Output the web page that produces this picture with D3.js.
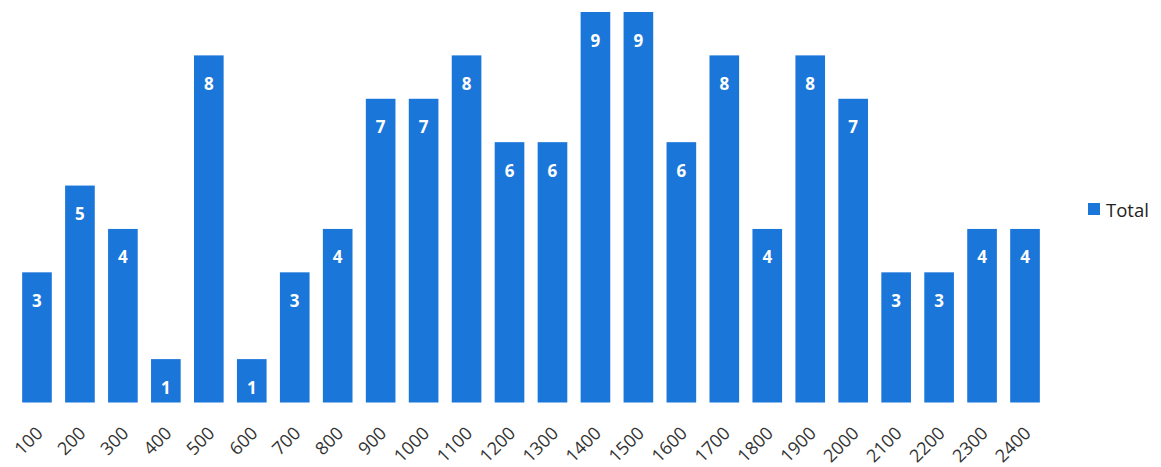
<!DOCTYPE html>
<html><head><meta charset="utf-8">
<script src="https://cdn.jsdelivr.net/npm/d3@7"></script>
<style>body{margin:0;background:#fff;}svg{display:block;}</style>
</head><body>
<svg id="c" width="1161" height="467"></svg>
<script>
const categories = ["100","200","300","400","500","600","700","800","900","1000","1100","1200","1300","1400","1500","1600","1700","1800","1900","2000","2100","2200","2300","2400"];
const values = [3,5,4,1,8,1,3,4,7,7,8,6,6,9,9,6,8,4,8,7,3,3,4,4];
const seriesName = "Total";

const svg = d3.select("#c");
const blue = "#1b76da";
const x = d3.scaleBand().domain(categories).range([15.5, 1046.5]).paddingInner(0.31).paddingOuter(0.155);
const y = d3.scaleLinear().domain([0, 9]).range([402.5, 12]);

svg.append("g").selectAll("rect").data(values).join("rect")
  .attr("x", (d,i) => x(categories[i]))
  .attr("y", d => y(d))
  .attr("width", x.bandwidth())
  .attr("height", d => y(0) - y(d))
  .attr("fill", blue);

svg.append("g").selectAll("text").data(values).join("text")
  .attr("x", (d,i) => x(categories[i]) + x.bandwidth()/2)
  .attr("y", d => y(d) + 28)
  .attr("text-anchor", "middle")
  .attr("dominant-baseline", "central")
  .attr("font-family", "Open Sans, sans-serif")
  .attr("font-weight", "bold")
  .attr("font-size", 17)
  .attr("fill", "#fff")
  .text(d => d);

const ax = svg.append("g").attr("transform", `translate(0,${y(0)})`)
  .call(d3.axisBottom(x).tickSize(0).tickPadding(0));
ax.select(".domain").remove();
ax.selectAll("text")
  .attr("font-family", "Open Sans, sans-serif")
  .attr("font-size", 18)
  .attr("fill", "#333")
  .attr("text-anchor", "end")
  .attr("dy", null)
  .attr("dominant-baseline", "central")
  .attr("transform", "translate(2,27) rotate(-45)");

const lg = svg.append("g").attr("transform", "translate(1088,203)");
lg.append("rect").attr("width", 12).attr("height", 12).attr("fill", blue);
lg.append("text").attr("x", 18).attr("y", 6.5).attr("dominant-baseline", "central")
  .attr("font-family", "Open Sans, sans-serif").attr("font-size", 18.5).attr("fill", "#222").text(seriesName);
</script>
</body></html>
